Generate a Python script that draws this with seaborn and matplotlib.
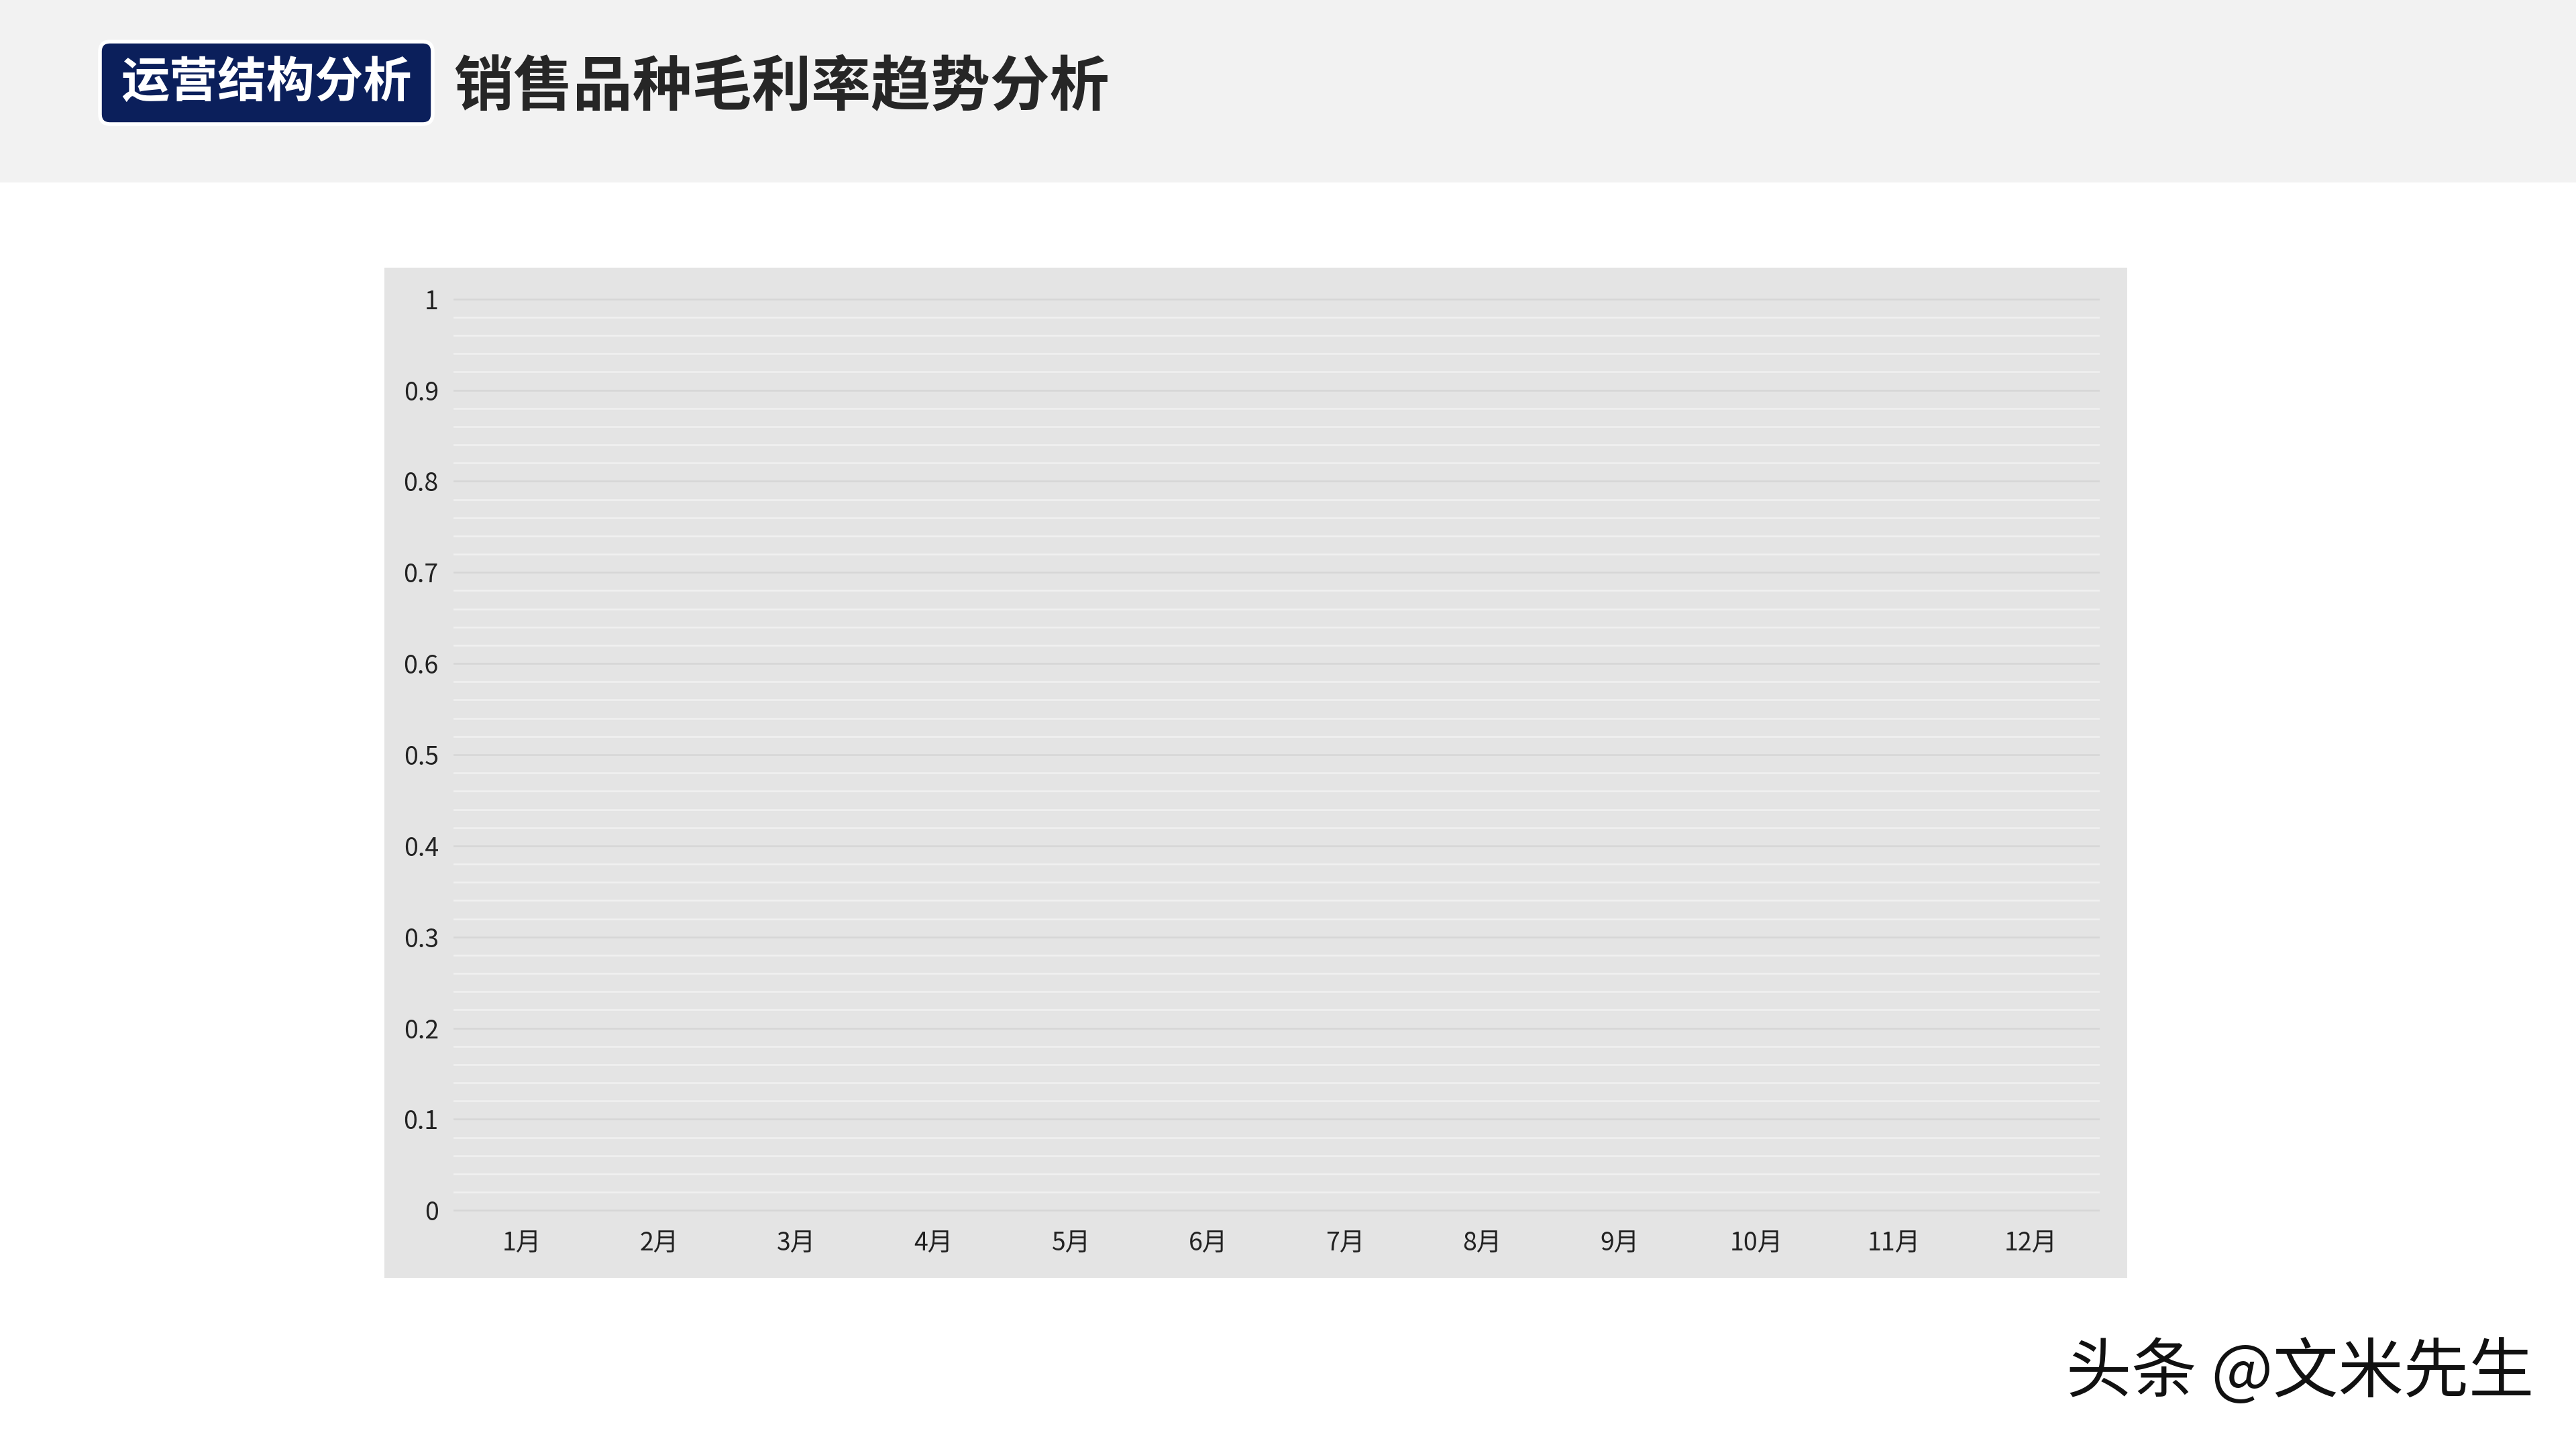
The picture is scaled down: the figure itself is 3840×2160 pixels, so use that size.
import numpy as np
import pandas as pd
import matplotlib
matplotlib.use("Agg")
import matplotlib.pyplot as plt
import seaborn as sns
from matplotlib.patches import Rectangle, FancyBboxPatch
from matplotlib.ticker import MultipleLocator, FuncFormatter

# --- data ---
months = ["1月", "2月", "3月", "4月", "5月", "6月",
          "7月", "8月", "9月", "10月", "11月", "12月"]
# the reference chart is an empty template: no margin values are plotted
gross_margin = [np.nan, np.nan, np.nan, np.nan, np.nan, np.nan,
                np.nan, np.nan, np.nan, np.nan, np.nan, np.nan]
y_ticks = [0, 0.1, 0.2, 0.3, 0.4, 0.5, 0.6, 0.7, 0.8, 0.9, 1]

badge_text = "运营结构分析"
title_text = "销售品种毛利率趋势分析"
watermark = "头条 @文米先生"

# --- style ---
sns.set_style("white")
plt.rcParams["font.family"] = ["Noto Sans CJK SC", "DejaVu Sans"]

W, H, DPI = 3840, 2160, 100
fig = plt.figure(figsize=(W / DPI, H / DPI), dpi=DPI, facecolor="white")

# header band
fig.patches.append(Rectangle((0, 1 - 272 / H), 1, 272 / H, transform=fig.transFigure,
                             facecolor="#f2f2f2", edgecolor="none", zorder=-2))
# badge
fig.patches.append(FancyBboxPatch((149 / DPI, (H - 185) / DPI), 496 / DPI, 123 / DPI,
                                  boxstyle="round,pad=0,rounding_size=0.15",
                                  transform=fig.dpi_scale_trans,
                                  facecolor="#0b1f5b", edgecolor="white", linewidth=4, zorder=-1))
fig.text(397 / W, 1 - 124 / H, badge_text, color="white", fontsize=52,
         fontweight="bold", ha="center", va="center")
fig.text(676 / W, 1 - 130 / H, title_text, color="#262626", fontsize=64,
         fontweight="bold", ha="left", va="center")

# chart background
fig.patches.append(Rectangle((573 / W, 1 - 1905 / H), (3171 - 573) / W, (1905 - 399) / H,
                             transform=fig.transFigure, facecolor="#e4e4e4",
                             edgecolor="none", zorder=-2))

ax = fig.add_axes([676 / W, 1 - 1807 / H, (3130 - 676) / W, (1807 - 443) / H])
ax.set_zorder(2)
ax.patch.set_visible(False)

df = pd.DataFrame({"月份": months, "毛利率": gross_margin})
sns.lineplot(data=df, x="月份", y="毛利率", ax=ax, color="#0b1f5b", linewidth=4)

ax.set_xlim(-0.5, len(months) - 0.5)
ax.set_ylim(-0.002, 1.002)
ax.set_xticks(range(len(months)))
ax.set_xticklabels(months)
ax.set_yticks(y_ticks)
ax.yaxis.set_major_formatter(FuncFormatter(lambda v, p: f"{v:g}"))
ax.yaxis.set_minor_locator(MultipleLocator(0.02))

ax.grid(False)
ax.grid(which="minor", axis="y", color="#f0f0f0", linewidth=1.8)
ax.grid(which="major", axis="y", color="#d6d6d6", linewidth=1.8)
ax.set_axisbelow(True)
for s in ax.spines.values():
    s.set_visible(False)
ax.set_xlabel("")
ax.set_ylabel("")
ax.tick_params(axis="both", which="both", length=0, labelsize=27, labelcolor="#222222")
ax.tick_params(axis="y", pad=16)
ax.tick_params(axis="x", pad=20)

# watermark
fig.text(3777 / W, 1 - 2047 / H, watermark, color="#111111", fontsize=70,
         ha="right", va="center")

fig.savefig("out.png", dpi=DPI, facecolor="white")
